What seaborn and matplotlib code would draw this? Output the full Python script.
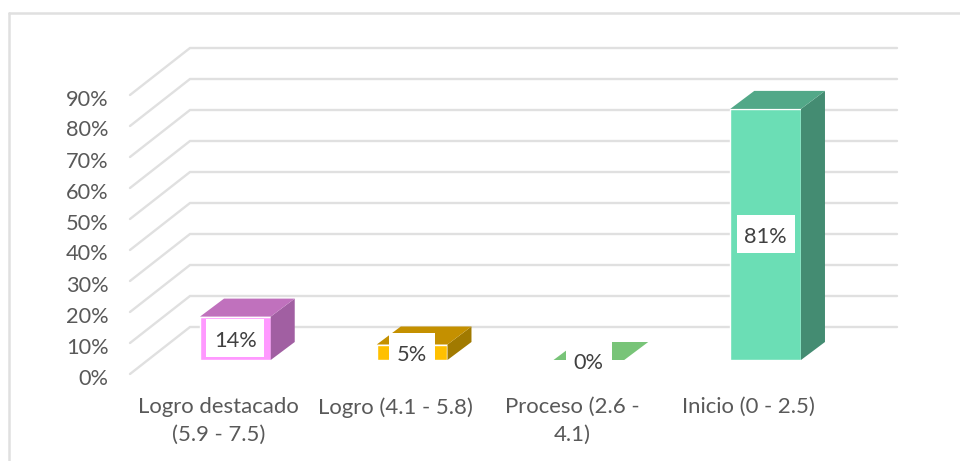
import matplotlib
matplotlib.use("Agg")
import matplotlib.pyplot as plt
from matplotlib.lines import Line2D
from matplotlib.patches import Polygon, Rectangle
from matplotlib.transforms import ScaledTranslation
import pandas as pd
import seaborn as sns

categories = ["Logro destacado\n(5.9 - 7.5)", "Logro (4.1 - 5.8)", "Proceso (2.6 -\n4.1)", "Inicio (0 - 2.5)"]
values = [14, 5, 0, 81]
value_labels = ["14%", "5%", "0%", "81%"]
y_ticks = [0, 10, 20, 30, 40, 50, 60, 70, 80, 90]
y_tick_labels = ["0%", "10%", "20%", "30%", "40%", "50%", "60%", "70%", "80%", "90%"]

front_colors = ["#ff99ff", "#ffc000", "#a5d8a5", "#6bdeb5"]
top_colors = ["#c071bd", "#c49000", "#78c478", "#52a888"]
side_colors = ["#a15fa2", "#a17a00", "#6aa86a", "#448c72"]

GRID = "#e0e0e0"
TEXT = "#595959"
W, H = 960, 461
PX_X = 176.75  # pixels per category
PX_Y = 3.1  # pixels per percent
BAR_WIDTH = 0.4

sns.set_theme(style="white")
plt.rcParams["font.family"] = ["Lato", "DejaVu Sans"]

fig = plt.figure(figsize=(W / 100, H / 100), dpi=100, facecolor="white")


def plane(left, base):
    # axes covering the 0-90% range, with 0% at pixel row "base"
    ax = fig.add_axes([left / W, 1 - base / H, 707 / W, 90 * PX_Y / H])
    ax.set_facecolor("none")
    for spine in ax.spines.values():
        spine.set_visible(False)
    return ax


# outer chart border, only top and left show in the crop
fig.add_artist(Line2D([9 / W, 9 / W], [0, 1 - 13 / H], color=GRID, lw=1.8))
fig.add_artist(Line2D([9 / W, 1], [1 - 13 / H, 1 - 13 / H], color=GRID, lw=1.8))

# front plane: ticks, labels and the walls
ax = plane(130, 374)
ax.set_xlim(-0.5, 3.5)
ax.set_ylim(0, 90)
ax.set_xticks(range(len(categories)))
ax.set_xticklabels(categories, fontsize=15.9, color=TEXT, linespacing=1.47)
ax.set_yticks(y_ticks)
ax.set_yticklabels(y_tick_labels, fontsize=15.7, color=TEXT)
ax.tick_params(axis="y", length=0, pad=15.5)
ax.tick_params(axis="x", length=0, pad=16.5)
for label in ax.get_yticklabels():
    label.set_transform(label.get_transform() + ScaledTranslation(0, -2.5 / 100, fig.dpi_scale_trans))

depth_x = 60 / PX_X
depth_y = 47 / PX_Y
for tick in y_ticks:
    ax.plot([-0.5, -0.5 + depth_x, 3.5 + depth_x], [tick, tick + depth_y, tick + depth_y],
            color=GRID, lw=1.7, clip_on=False, solid_joinstyle="miter")

# bars sit further back on the floor
ax_bar = plane(147, 360)
df = pd.DataFrame({"category": categories, "value": values})
sns.barplot(data=df, x="category", y="value", hue="category", palette=front_colors,
            legend=False, width=BAR_WIDTH, errorbar=None, saturation=1, ax=ax_bar)
ax_bar.set_xlim(-0.5, 3.5)
ax_bar.set_ylim(0, 90)
ax_bar.set_xticks([])
ax_bar.set_yticks([])
ax_bar.set_xlabel("")
ax_bar.set_ylabel("")

bar_dx = 24 / PX_X
bar_dy = 18 / PX_Y
half = BAR_WIDTH / 2
for i, value in enumerate(values):
    top = [(i - half, value), (i + half, value), (i + half + bar_dx, value + bar_dy), (i - half + bar_dx, value + bar_dy)]
    side = [(i + half, 0), (i + half + bar_dx, bar_dy), (i + half + bar_dx, value + bar_dy), (i + half, value)]
    ax_bar.add_patch(Polygon(side, color=side_colors[i], lw=0, clip_on=False))
    ax_bar.add_patch(Polygon(top, color=top_colors[i], lw=0, clip_on=False))

    # data label on a white box
    box_w = (58 if len(value_labels[i]) == 3 else 46) / PX_X
    box_h = 38 / PX_Y
    y_mid = value / 2
    ax_bar.add_patch(Rectangle((i - box_w / 2, y_mid - box_h / 2), box_w, box_h,
                               facecolor="white", lw=0, clip_on=False, zorder=5))
    ax_bar.text(i, y_mid - 2.5 / PX_Y, value_labels[i], ha="center", va="center", fontsize=15.7,
                color="#404040", zorder=6)

fig.savefig("out.png", dpi=100, facecolor="white")
